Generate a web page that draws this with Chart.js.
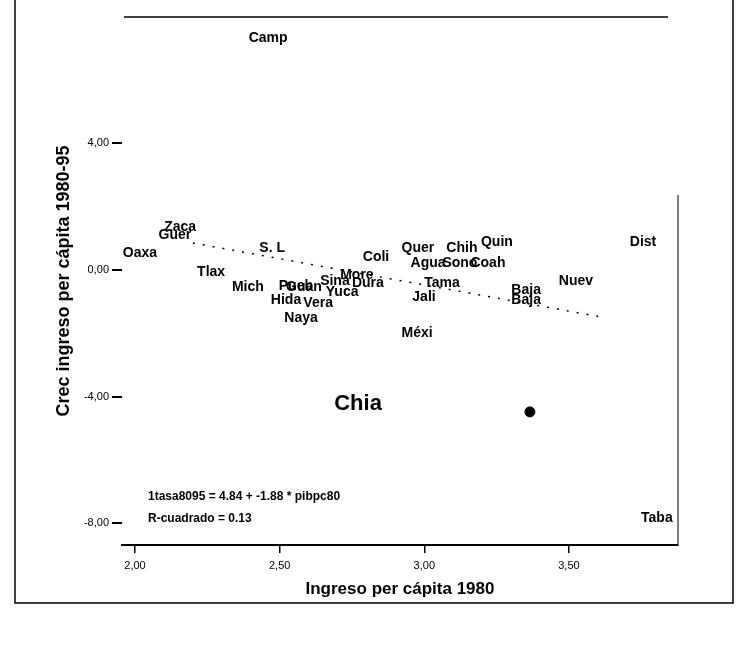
<!DOCTYPE html>
<html><head><meta charset="utf-8">
<script src="https://cdn.jsdelivr.net/npm/chart.js@4/dist/chart.umd.min.js"></script>
<style>html,body{margin:0;padding:0;background:#fff}#wrap{width:750px;height:650px;position:relative}</style>
</head><body><div id="wrap"><canvas id="c" width="750" height="650"></canvas></div>
<script>
// ---- data ----
const states = ["Camp","Zaca","Guer","Oaxa","S. L","Tlax","Mich","Pueb","Guan","Hida","Vera","Naya","Yuca","Sina","More","Dura","Coli","Quer","Chih","Quin","Agua","Sono","Coah","Tama","Jali","Méxi","Baja","Baja","Nuev","Dist","Chia","Taba"];
const xIncome = [2.46,2.156,2.138,2.017,2.474,2.263,2.39,2.556,2.584,2.522,2.633,2.574,2.716,2.691,2.767,2.805,2.833,2.978,3.13,3.251,3.013,3.123,3.22,3.061,2.999,2.975,3.352,3.352,3.524,3.756,2.771,3.804];
const yGrowth = [7.32,1.36,1.10,0.54,0.69,-0.06,-0.54,-0.50,-0.54,-0.95,-1.04,-1.51,-0.69,-0.35,-0.16,-0.41,0.41,0.69,0.69,0.88,0.22,0.22,0.22,-0.41,-0.85,-1.99,-0.63,-0.95,-0.35,0.88,-4.23,-7.82];
const fitX = [2.20, 3.62];
const fitY = [0.85, -1.50];
const blobX = [3.365];
const blobY = [-4.48];
const xTicks = [2, 2.5, 3, 3.5];
const xTickLabels = ["2,00","2,50","3,00","3,50"];
const yTicks = [-8, -4, 0, 4];
const yTickLabels = ["-8,00","-4,00","0,00","4,00"];
const xTitle = "Ingreso per cápita 1980";
const yTitle = "Crec ingreso per cápita 1980-95";
const fitText = ["1tasa8095 = 4.84 + -1.88 * pibpc80", "R-cuadrado = 0.13"];
const bigLabel = "Chia";

const FONT = "'Liberation Sans', Arial, sans-serif";

const labelPlugin = {
  id: 'labels',
  afterDatasetsDraw(chart) {
    const ctx = chart.ctx;
    const meta = chart.getDatasetMeta(0);
    ctx.save();
    ctx.fillStyle = '#000';
    ctx.textAlign = 'center';
    ctx.textBaseline = 'middle';
    meta.data.forEach((el, i) => {
      const name = states[i];
      ctx.font = (name === bigLabel ? 'bold 22px ' : 'bold 14px ') + FONT;
      ctx.fillText(name, el.x, el.y);
    });
    const ca = chart.chartArea;
    ctx.textAlign = 'left';
    ctx.font = 'bold 12px ' + FONT;
    ctx.fillText(fitText[0], ca.left + 26, 497);
    ctx.fillText(fitText[1], ca.left + 26, 519);
    // plot frame (top and right)
    ctx.strokeStyle = '#000';
    ctx.lineWidth = 1.5;
    ctx.beginPath();
    ctx.moveTo(ca.left + 2, ca.top); ctx.lineTo(ca.right - 10, ca.top);
    ctx.stroke();
    ctx.lineWidth = 1;
    ctx.beginPath();
    ctx.moveTo(ca.right, ca.top + 178); ctx.lineTo(ca.right, ca.bottom);
    ctx.stroke();
    // outer page frame
    ctx.lineWidth = 1.5;
    ctx.beginPath();
    ctx.moveTo(15, 0); ctx.lineTo(15, 603); ctx.lineTo(733, 603); ctx.lineTo(733, 0);
    ctx.stroke();
    ctx.restore();
  }
};

new Chart(document.getElementById('c'), {
  type: 'scatter',
  data: {
    datasets: [
      { data: states.map((s, i) => ({x: xIncome[i], y: yGrowth[i]})), pointRadius: 0, showLine: false },
      { type: 'line', data: fitX.map((v, i) => ({x: v, y: fitY[i]})), borderColor: '#000', borderWidth: 1.5, borderDash: [2, 8], pointRadius: 0, fill: false },
      { data: blobX.map((v, i) => ({x: v, y: blobY[i]})), pointRadius: 5, backgroundColor: '#000', borderColor: '#000' }
    ]
  },
  options: {
    responsive: false,
    devicePixelRatio: 1,
    animation: false,
    layout: { padding: { left: 0, top: 17, right: 72, bottom: 0 } },
    plugins: { legend: { display: false }, tooltip: { enabled: false } },
    scales: {
      x: {
        type: 'linear', min: 1.955, max: 3.877,
        afterBuildTicks: s => { s.ticks = xTicks.map(v => ({value: v})); },
        afterFit: s => { s.height = 105; },
        ticks: { callback: (v, i) => xTickLabels[i], font: { family: FONT, size: 11 }, color: '#000', padding: 6, maxRotation: 0, autoSkip: false },
        grid: { drawOnChartArea: false, drawTicks: true, tickLength: 8, color: '#000', lineWidth: 1.5 },
        border: { display: true, color: '#000', width: 2 },
        title: { display: true, text: xTitle, color: '#000', font: { family: FONT, size: 17, weight: 'bold' }, padding: { top: 0, bottom: 50 } }
      },
      y: {
        type: 'linear', min: -8.68, max: 7.98,
        afterBuildTicks: s => { s.ticks = yTicks.map(v => ({value: v})); },
        afterFit: s => { s.width = 122; },
        ticks: { callback: (v, i) => yTickLabels[i], font: { family: FONT, size: 11 }, color: '#000', padding: 3, autoSkip: false },
        grid: { drawOnChartArea: false, drawTicks: true, tickLength: 10, color: '#000', lineWidth: 2 },
        border: { display: false },
        title: { display: true, text: yTitle, color: '#000', font: { family: FONT, size: 18, weight: 'bold' }, padding: { top: 53, bottom: 0 } }
      }
    }
  },
  plugins: [labelPlugin]
});
</script>
</body></html>
